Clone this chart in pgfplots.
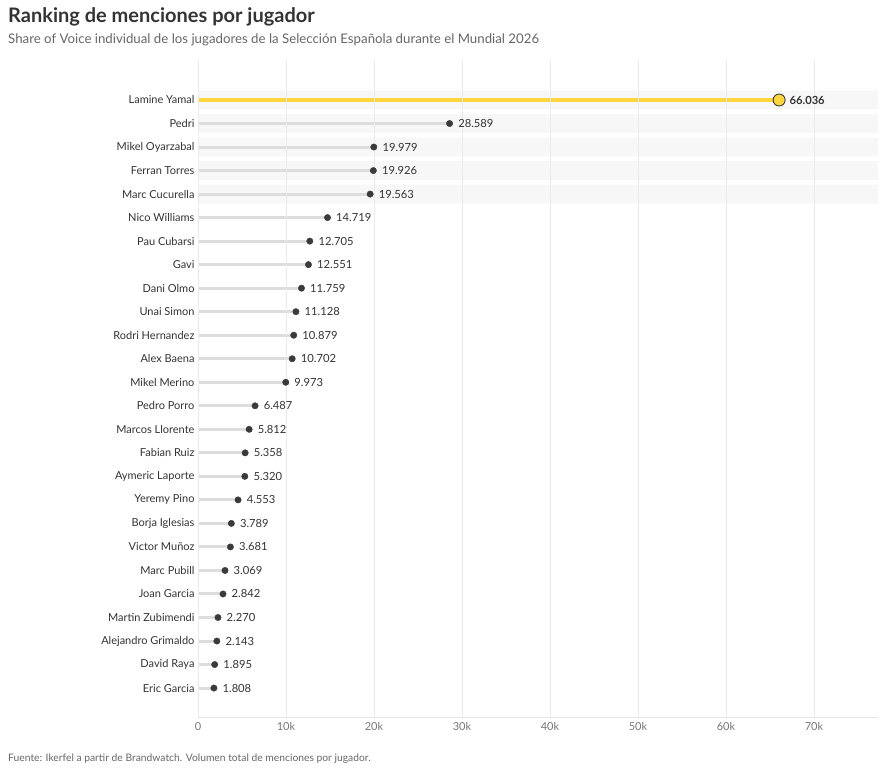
\documentclass[border=0pt]{standalone}
\usepackage{pgfplots}
\pgfplotsset{compat=1.18}
\usepackage{pgfplotstable}
\usepackage{fontspec}
\setmainfont{Lato}
\definecolor{txt}{HTML}{333333}
\definecolor{sub}{HTML}{666666}
\definecolor{tick}{HTML}{777777}
\definecolor{gridc}{HTML}{EBEBEB}
\definecolor{stem}{HTML}{DDDDDD}
\definecolor{band}{HTML}{F7F7F7}
\definecolor{gold}{HTML}{FDD640}
\definecolor{dot}{HTML}{3A3A3A}
\pgfplotstableread{
y x label
2 28589 28.589
3 19979 19.979
4 19926 19.926
5 19563 19.563
6 14719 14.719
7 12705 12.705
8 12551 12.551
9 11759 11.759
10 11128 11.128
11 10879 10.879
12 10702 10.702
13 9973 9.973
14 6487 6.487
15 5812 5.812
16 5358 5.358
17 5320 5.320
18 4553 4.553
19 3789 3.789
20 3681 3.681
21 3069 3.069
22 2842 2.842
23 2270 2.270
24 2143 2.143
25 1895 1.895
26 1808 1.808
}\data
\begin{document}
\begin{tikzpicture}
\path[use as bounding box] (0,0) rectangle (887pt,772pt);
\node[anchor=base west, inner sep=0pt, font=\bfseries\fontsize{20}{23}\selectfont, text=txt] at (8pt,749pt) {Ranking de menciones por jugador};
\node[anchor=base west, inner sep=0pt, font=\fontsize{13.25}{15}\selectfont, text=sub] at (8pt,728pt) {Share of Voice individual de los jugadores de la Selección Española durante el Mundial 2026};
\node[anchor=base west, inner sep=0pt, font=\fontsize{10.3}{12}\selectfont, text=sub] at (8pt,11pt) {Fuente: Ikerfel a partir de Brandwatch. Volumen total de menciones por jugador.};
\begin{axis}[
  scale only axis, width=680pt, height=657pt,
  at={(198pt,55pt)}, anchor=south west,
  xmin=0, xmax=77270, ymin=-0.7, ymax=27.23, y dir=reverse,
  scaled x ticks=false,
  xtick={0,10000,20000,30000,40000,50000,60000,70000},
  xticklabels={0,10k,20k,30k,40k,50k,60k,70k},
  ytick={1,...,26},
  yticklabels={Lamine Yamal,Pedri,Mikel Oyarzabal,Ferran Torres,Marc Cucurella,Nico Williams,Pau Cubarsi,Gavi,Dani Olmo,Unai Simon,Rodri Hernandez,Alex Baena,Mikel Merino,Pedro Porro,Marcos Llorente,Fabian Ruiz,Aymeric Laporte,Yeremy Pino,Borja Iglesias,Victor Muñoz,Marc Pubill,Joan Garcia,Martin Zubimendi,Alejandro Grimaldo,David Raya,Eric Garcia},
  xmajorgrids, grid style={gridc, line width=1pt},
  axis on top,
  axis x line*=bottom, axis y line*=left,
  x axis line style={draw=gridc!140!white, line width=1pt, -},
  y axis line style={draw=none},
  major tick length=0pt,
  yticklabel style={font=\fontsize{11}{13}\selectfont, text=txt},
  xticklabel style={font=\fontsize{11}{13}\selectfont, text=tick, yshift=-2pt},
  /pgf/number format/assume math mode=true,
  clip=false,
]
\addplot[xbar, bar width=19pt, bar shift=0pt, fill=band, draw=none] coordinates {(77270,1)(77270,2)(77270,3)(77270,4)(77270,5)};
\addplot[xcomb, stem, line width=3pt] table[x=x,y=y] {\data};
\addplot[xcomb, gold, line width=4pt] coordinates {(66036,1)};
\addplot[only marks, mark=*, mark size=3.2pt, mark options={draw=dot, fill=dot},
  nodes near coords, point meta=explicit symbolic,
  nodes near coords style={anchor=west, inner sep=0pt, xshift=8.5pt, font=\fontsize{11.2}{13}\selectfont, text=txt}]
  table[x=x,y=y,meta=label] {\data};
\addplot[only marks, mark=*, mark size=6pt, mark options={draw=dot, fill=gold, line width=0.9pt},
  nodes near coords, point meta=explicit symbolic,
  nodes near coords style={anchor=west, inner sep=0pt, xshift=10pt, font=\bfseries\fontsize{11.2}{13}\selectfont, text=txt}]
  coordinates {(66036,1) [66.036]};
\end{axis}
\end{tikzpicture}
\end{document}
